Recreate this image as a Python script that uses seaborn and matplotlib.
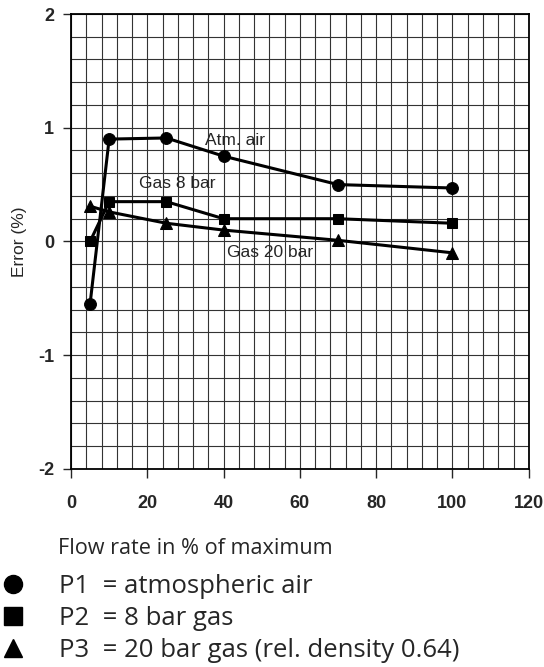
import numpy as np
import pandas as pd
import matplotlib
matplotlib.use("Agg")
import matplotlib.pyplot as plt
from matplotlib.lines import Line2D
import seaborn as sns

# ---------------- data ----------------
flow = [5, 10, 25, 40, 70, 100]
atm_air = [-0.55, 0.90, 0.91, 0.75, 0.50, 0.47]
gas_8bar = [0.0, 0.35, 0.35, 0.20, 0.20, 0.16]
gas_20bar = [0.31, 0.26, 0.16, 0.10, 0.01, -0.10]

series_names = ["Atm. air", "Gas 8 bar", "Gas 20 bar"]
series_markers = ["o", "s", "^"]
legend_labels = ["P1  = atmospheric air", "P2  = 8 bar gas",
                 "P3  = 20 bar gas (rel. density 0.64)"]

x_ticks = [0, 20, 40, 60, 80, 100, 120]
y_ticks = [-2, -1, 0, 1, 2]

df = pd.DataFrame({
    "flow": flow * 3,
    "error": atm_air + gas_8bar + gas_20bar,
    "series": np.repeat(series_names, len(flow)),
})

# ---------------- figure ----------------
sns.set_style("white")
plt.rcParams["font.family"] = ["Liberation Sans", "DejaVu Sans"]
plt.rcParams["axes.unicode_minus"] = False

fig = plt.figure(figsize=(5.44, 6.67), dpi=100)
ax = fig.add_axes([0.1305, 0.297, 0.972 - 0.1305, 0.979 - 0.297])

msize = {"o": 8.5, "s": 7.5, "^": 8}
for name, mk in zip(series_names, series_markers):
    sns.lineplot(data=df[df["series"] == name], x="flow", y="error",
                 color="black", linewidth=2.2, marker=mk, markersize=msize[mk],
                 markeredgecolor="black", markerfacecolor="black",
                 ax=ax, legend=False, zorder=5)

ax.set_xlim(0, 120)
ax.set_ylim(-2, 2)
ax.set_xticks(x_ticks)
ax.set_yticks(y_ticks)
ax.set_xticks(np.arange(0, 121, 4), minor=True)
ax.set_yticks(np.arange(-2, 2.01, 0.2), minor=True)
ax.grid(True, which="both", color="#333333", linewidth=0.8)
ax.set_axisbelow(True)
ax.tick_params(axis="both", which="minor", length=0)
ax.tick_params(axis="x", which="major", direction="out", length=6.5, width=1,
               pad=12, labelsize=13, bottom=True)
ax.tick_params(axis="y", which="major", direction="out", length=6, width=1,
               pad=6, labelsize=13, left=True)
for lab in ax.get_xticklabels() + ax.get_yticklabels():
    lab.set_fontweight("bold")
for sp in ax.spines.values():
    sp.set_color("black")
    sp.set_linewidth(1.3)

ax.set_xlabel("")
ax.set_ylabel("Error (%)", fontsize=12.5, labelpad=8)

# series labels inside the plot
ax.text(35, 0.89, "Atm. air", fontsize=12.5, va="center", ha="left")
ax.text(17.8, 0.51, "Gas 8 bar", fontsize=12.5, va="center", ha="left")
ax.text(40.8, -0.10, "Gas 20 bar", fontsize=12.5, va="center", ha="left")

# x label, left aligned under the axis
fig.text(58 / 544, 1 - 549 / 667, "Flow rate in % of maximum",
         fontsize=15.6, family=["Open Sans", "DejaVu Sans"],
         ha="left", va="center")

# marker key below the chart
handles = [Line2D([], [], color="black", marker=mk, linestyle="none",
                  markersize=13) for mk in series_markers]
fig.legend(handles, legend_labels, loc="upper left",
           bbox_to_anchor=(0.0, 1 - 574 / 667), frameon=False,
           prop={"family": ["Open Sans", "DejaVu Sans"], "size": 18.5},
           handlelength=1.01, handletextpad=1.28, borderpad=0,
           borderaxespad=0, labelspacing=0.28)

fig.savefig("out.png", dpi=100)
